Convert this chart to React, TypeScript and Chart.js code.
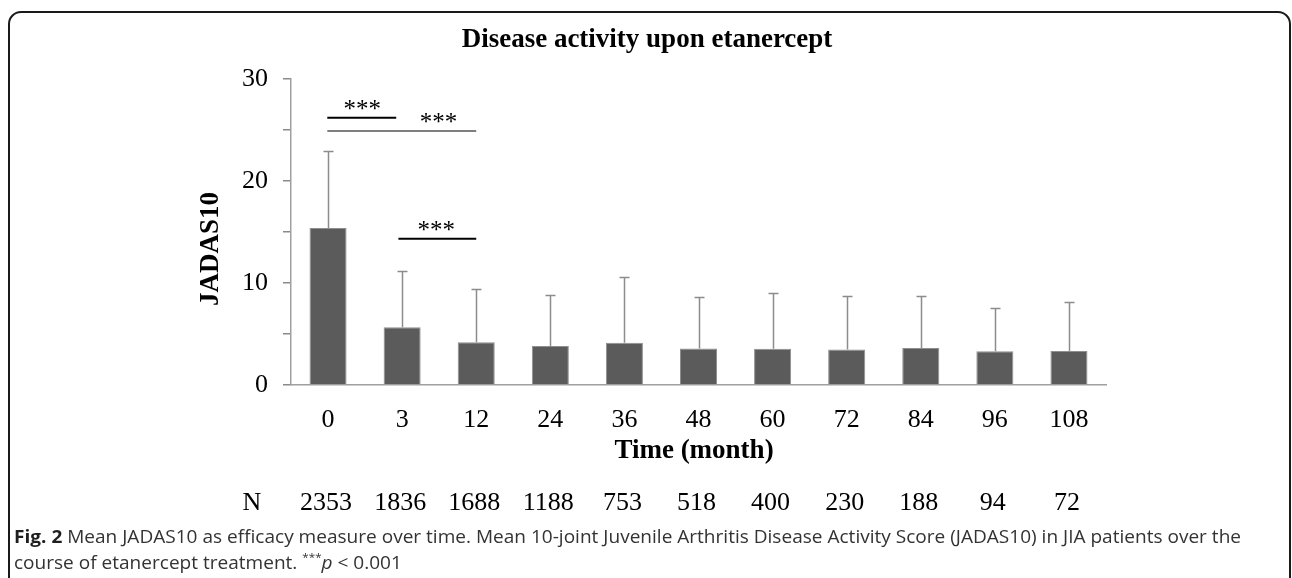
import React, { useEffect, useRef } from 'react';
import { Chart, registerables } from 'chart.js';

Chart.register(...registerables);

// ---- data ----
const months = ['0', '3', '12', '24', '36', '48', '60', '72', '84', '96', '108'];
const meanJadas = [15.4, 5.65, 4.18, 3.82, 4.15, 3.59, 3.56, 3.49, 3.62, 3.3, 3.33];
const upperSd = [22.9, 11.2, 9.44, 8.85, 10.6, 8.63, 8.98, 8.72, 8.75, 7.55, 8.15];
const nPatients = ['2353', '1836', '1688', '1188', '753', '518', '400', '230', '188', '94', '72'];

// significance brackets (category positions, level in JADAS10 units)
const sigFrom = [-0.01, -0.01, 0.95];
const sigTo = [0.92, 2.0, 2.0];
const sigLevel = [26.2, 24.9, 14.35];
const sigWidth = [2, 1.2, 2];
const sigLabelAt = [0.46, 1.49, 1.46];
const sigLabel = '***';

const titleText = 'Disease activity upon etanercept';
const yTitle = 'JADAS10';
const xTitle = 'Time (month)';
const captionBold = 'Fig. 2';
const captionLine1 = ' Mean JADAS10 as efficacy measure over time. Mean 10-joint Juvenile Arthritis Disease Activity Score (JADAS10) in JIA patients over the';
const captionLine2 = 'course of etanercept treatment. ';

const SERIF = '"Liberation Serif", "Times New Roman", serif';
const SANS = '"Open Sans", "Noto Sans", sans-serif';

const overlayPlugin = {
  id: 'overlay',
  afterDatasetsDraw(chart: any) {
    const ctx = chart.ctx;
    const xs = chart.scales.x;
    const ys = chart.scales.y;
    const catPx = (v: number) => {
      const p0 = xs.getPixelForValue(0);
      const p1 = xs.getPixelForValue(1);
      return p0 + v * (p1 - p0);
    };
    // error bars (upper only)
    ctx.save();
    ctx.strokeStyle = '#8c8c8c';
    ctx.lineWidth = 1.5;
    for (let i = 0; i < months.length; i++) {
      const x = Math.round(xs.getPixelForValue(i)) + 0.5;
      const yb = ys.getPixelForValue(meanJadas[i]);
      const yt = Math.round(ys.getPixelForValue(upperSd[i])) + 0.5;
      ctx.beginPath();
      ctx.moveTo(x, yb);
      ctx.lineTo(x, yt);
      ctx.moveTo(x - 5, yt);
      ctx.lineTo(x + 5, yt);
      ctx.stroke();
    }
    ctx.restore();
    // significance lines
    ctx.save();
    ctx.strokeStyle = '#000';
    ctx.fillStyle = '#000';
    ctx.font = `25px ${SERIF}`;
    ctx.textAlign = 'center';
    ctx.textBaseline = 'alphabetic';
    for (let k = 0; k < sigFrom.length; k++) {
      const y = ys.getPixelForValue(sigLevel[k]);
      ctx.lineWidth = sigWidth[k];
      ctx.beginPath();
      ctx.moveTo(catPx(sigFrom[k]), y);
      ctx.lineTo(catPx(sigTo[k]), y);
      ctx.stroke();
      ctx.fillText(sigLabel, catPx(sigLabelAt[k]), y - 1);
    }
    ctx.restore();
  },
  afterDraw(chart: any) {
    const ctx = chart.ctx;
    const xs = chart.scales.x;
    ctx.save();
    ctx.fillStyle = '#000';
    // title
    ctx.font = `bold 27px ${SERIF}`;
    ctx.textAlign = 'center';
    ctx.textBaseline = 'alphabetic';
    ctx.fillText(titleText, 647, 47);
    // x title
    ctx.fillText(xTitle, 694, 458);
    // y title
    ctx.save();
    ctx.translate(218, 249);
    ctx.rotate(-Math.PI / 2);
    ctx.textAlign = 'center';
    ctx.fillText(yTitle, 0, 0);
    ctx.restore();
    // N row
    ctx.font = `26px ${SERIF}`;
    ctx.fillText('N', 252, 510);
    for (let i = 0; i < nPatients.length; i++) {
      ctx.fillText(nPatients[i], xs.getPixelForValue(i) - 2, 510);
    }
    // caption
    const size = 18;
    ctx.textAlign = 'left';
    ctx.font = `bold ${size}px ${SANS}`;
    const wb = ctx.measureText(captionBold).width;
    ctx.font = `${size}px ${SANS}`;
    const w1 = ctx.measureText(captionLine1).width;
    const sx = (1241 - 14) / (wb + w1);
    ctx.save();
    ctx.translate(14, 0);
    ctx.scale(sx, 1);
    ctx.fillStyle = '#1f1f1f';
    ctx.font = `bold ${size}px ${SANS}`;
    ctx.fillText(captionBold, 0, 543);
    ctx.fillStyle = '#333';
    ctx.font = `${size}px ${SANS}`;
    ctx.fillText(captionLine1, wb, 543);
    const w2 = ctx.measureText(captionLine2).width;
    ctx.fillText(captionLine2, 0, 569);
    ctx.font = `${Math.round(size * 0.62)}px ${SANS}`;
    ctx.fillText('***', w2, 561);
    const ws = ctx.measureText('***').width;
    ctx.font = `italic ${size}px ${SANS}`;
    ctx.fillText('p', w2 + ws, 569);
    const wp = ctx.measureText('p').width;
    ctx.font = `${size}px ${SANS}`;
    ctx.fillText(' < 0.001', w2 + ws + wp, 569);
    ctx.restore();
    // rounded frame
    ctx.strokeStyle = '#1a1a1a';
    ctx.lineWidth = 2;
    ctx.beginPath();
    (ctx as any).roundRect(9, 12, 1281, 640, 12);
    ctx.stroke();
    ctx.restore();
  },
};

export default function App() {
  const ref = useRef<HTMLCanvasElement>(null);
  useEffect(() => {
    if (!ref.current) return;
    const chart = new Chart(ref.current, {
      type: 'bar',
      data: {
        labels: months,
        datasets: [
          {
            label: 'Mean JADAS10',
            data: meanJadas,
            backgroundColor: '#5b5b5b',
            borderColor: '#8f8f8f',
            borderWidth: 1,
            barPercentage: 0.5,
            categoryPercentage: 1,
          },
        ],
      },
      options: {
        animation: false,
        responsive: false,
        devicePixelRatio: 1,
        layout: { padding: { top: 79, right: 186, bottom: 143, left: 231 } },
        plugins: {
          legend: { display: false },
          title: { display: false },
          tooltip: { enabled: false },
        },
        scales: {
          x: {
            afterFit: (s: any) => {
              s.height = 50;
            },
            grid: { display: true, drawOnChartArea: false, drawTicks: false },
            border: { color: '#a0a0a0', width: 1.5 },
            ticks: { color: '#000', font: { family: SERIF, size: 26 }, padding: 20 },
          },
          y: {
            min: 0,
            max: 30,
            afterFit: (s: any) => {
              s.width = 60;
            },
            grid: { drawOnChartArea: false, tickLength: 8, color: '#8a8a8a', lineWidth: 1.5 },
            border: { color: '#a0a0a0', width: 1.5 },
            ticks: {
              stepSize: 5,
              autoSkip: false,
              color: '#000',
              padding: 15,
              font: { family: SERIF, size: 26 },
              callback: (v: any) => (Number(v) % 10 === 0 ? String(v) : ''),
            },
          },
        },
      },
      plugins: [overlayPlugin],
    });
    return () => chart.destroy();
  }, []);
  return (
    <div style={{ position: 'fixed', left: 0, top: 0, width: 1292, height: 578, background: '#fff' }}>
      <canvas ref={ref} width={1292} height={578} style={{ width: 1292, height: 578, display: 'block' }} />
    </div>
  );
}
